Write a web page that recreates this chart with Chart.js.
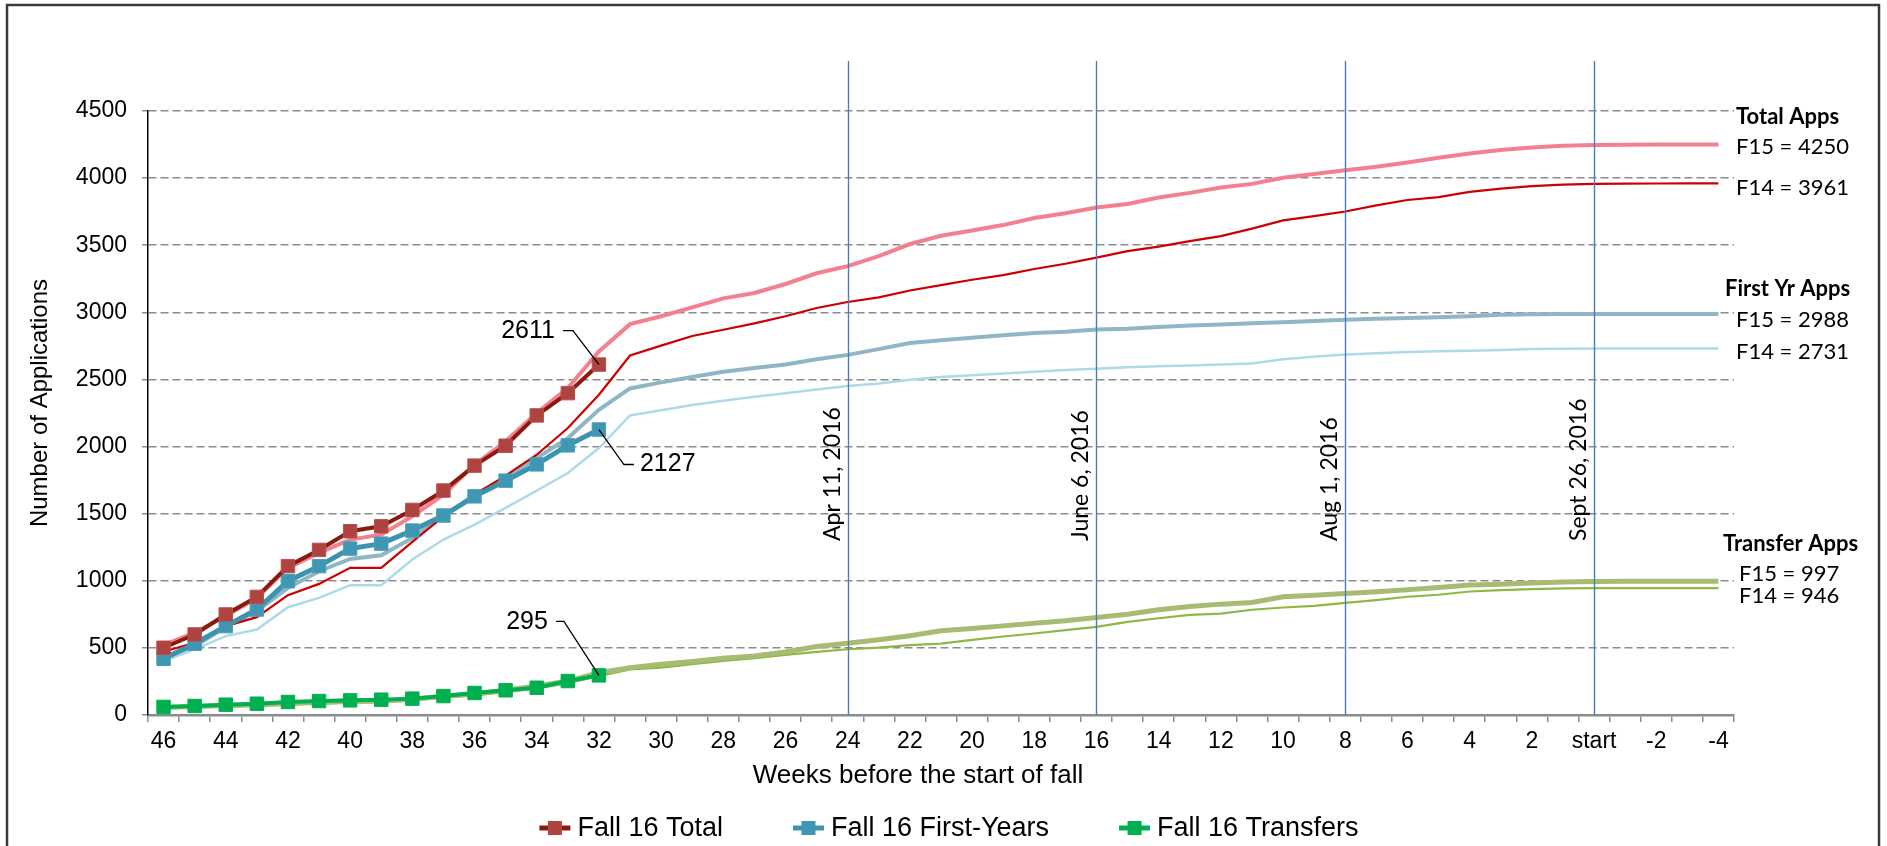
<!DOCTYPE html>
<html><head><meta charset="utf-8">
<script src="https://cdn.jsdelivr.net/npm/chart.js@4/dist/chart.umd.min.js"></script>
<style>html,body{margin:0;padding:0;background:#fff;}canvas{display:block;}</style>
</head><body>
<canvas id="c" width="1887" height="846"></canvas>
<script>
const weekLabels = ['46','45','44','43','42','41','40','39','38','37','36','35','34','33','32','31','30','29','28','27','26','25','24','23','22','21','20','19','18','17','16','15','14','13','12','11','10','9','8','7','6','5','4','3','2','1','start','-1','-2','-3','-4'];

const fall16Total = [501,600,749,880,1109,1230,1369,1406,1528,1672,1858,2006,2232,2398,2611];
const fall16FirstYears = [419,531,662,786,997,1109,1240,1277,1374,1486,1629,1746,1867,2009,2127];
const fall16Transfers = [60,67,77,84,97,104,109,114,122,141,164,184,203,253,295];

const fall15Total = [520,613,737,873,1096,1208,1307,1344,1481,1642,1865,2039,2249,2435,2708,2912,2971,3037,3104,3144,3211,3291,3344,3418,3509,3570,3610,3650,3703,3738,3781,3807,3855,3890,3930,3957,4002,4031,4058,4084,4116,4151,4183,4210,4228,4242,4247,4249,4250,4250,4250];
const fall14Total = [471,538,662,729,893,977,1096,1096,1290,1480,1642,1783,1939,2138,2386,2678,2752,2824,2870,2918,2971,3032,3077,3112,3163,3203,3243,3277,3323,3362,3408,3456,3490,3530,3568,3624,3685,3717,3751,3797,3837,3858,3898,3922,3941,3951,3957,3959,3960,3961,3961];
const fall15FirstYears = [432,513,655,774,947,1071,1163,1190,1319,1480,1642,1766,1915,2063,2274,2433,2478,2518,2558,2585,2611,2651,2683,2726,2771,2792,2811,2830,2846,2856,2872,2878,2891,2902,2910,2918,2926,2936,2944,2952,2958,2963,2971,2982,2986,2987,2988,2988,2988,2988,2988];
const fall14FirstYears = [402,489,588,637,803,873,967,967,1158,1307,1419,1543,1672,1803,1989,2232,2270,2310,2342,2371,2398,2425,2451,2470,2497,2518,2531,2545,2558,2571,2579,2590,2598,2603,2611,2619,2651,2670,2686,2696,2704,2710,2714,2720,2726,2729,2731,2731,2731,2731,2731];
const fall15Transfers = [58,63,70,76,86,94,100,104,117,139,159,184,216,253,315,352,378,398,423,440,470,510,535,560,590,627,644,664,684,702,726,751,784,808,826,838,881,893,906,918,933,950,968,975,983,990,994,996,997,997,997];
const fall14Transfers = [50,55,62,68,78,86,92,96,109,129,146,171,198,238,290,340,353,378,403,423,448,470,490,502,520,532,560,585,607,632,657,694,721,746,756,784,801,813,836,856,881,896,920,930,938,943,946,946,946,946,946];

const markerWeeks = ['24','16','8','start'];
const markerTexts = ['Apr 11, 2016','June 6, 2016','Aug 1, 2016','Sept 26, 2016'];
const sideHeaders = ['Total Apps','First Yr Apps','Transfer Apps'];
const sideLines = [['F15 = 4250','F14 = 3961'],['F15 = 2988','F14 = 2731'],['F15 = 997','F14 = 946']];
const xTitle = 'Weeks before the start of fall';
const yTitle = 'Number of Applications';
const yMax = 4500, yStep = 500;

const FONT = "'Liberation Sans', Arial, sans-serif";
const CAL = "Lato, 'Open Sans', sans-serif";

// vertical date markers
const markerPlugin = {
  id: 'markers',
  afterDatasetsDraw(chart) {
    const {ctx} = chart, xs = chart.scales.x, ys = chart.scales.y;
    ctx.save();
    markerWeeks.forEach((w, i) => {
      const x = Math.round(xs.getPixelForValue(weekLabels.indexOf(w))) + 0.5;
      ctx.strokeStyle = '#4a7ebb';
      ctx.lineWidth = 1.4;
      ctx.beginPath();
      ctx.moveTo(x, ys.getPixelForValue(yMax) - 50);
      ctx.lineTo(x, ys.bottom);
      ctx.stroke();
      ctx.save();
      ctx.translate(x - 9, ys.bottom - 174);
      ctx.rotate(-Math.PI / 2);
      ctx.font = '23px ' + CAL;
      ctx.fillStyle = '#000';
      ctx.textAlign = 'left';
      ctx.textBaseline = 'alphabetic';
      ctx.fillText(markerTexts[i], 0, 0);
      ctx.restore();
    });
    ctx.restore();
  }
};

// callout labels for the last Fall 16 points
const calloutPlugin = {
  id: 'callouts',
  afterDatasetsDraw(chart) {
    const {ctx} = chart;
    const specs = [
      {ds: 0, elbow: [-26, -34], end: [-36, -34], text: [-44, -33], align: 'right'},
      {ds: 1, elbow: [25, 35], end: [35, 35], text: [41, 35], align: 'left'},
      {ds: 2, elbow: [-35, -54], end: [-43, -54], text: [-51, -53], align: 'right'}
    ];
    ctx.save();
    specs.forEach(s => {
      const meta = chart.getDatasetMeta(s.ds);
      const pt = meta.data[meta.data.length - 1];
      const val = chart.data.datasets[s.ds].data[meta.data.length - 1];
      ctx.strokeStyle = '#000';
      ctx.lineWidth = 1.3;
      ctx.beginPath();
      ctx.moveTo(pt.x, pt.y);
      ctx.lineTo(pt.x + s.elbow[0], pt.y + s.elbow[1]);
      ctx.lineTo(pt.x + s.end[0], pt.y + s.end[1]);
      ctx.stroke();
      ctx.font = '25px ' + FONT;
      ctx.fillStyle = '#000';
      ctx.textAlign = s.align;
      ctx.textBaseline = 'middle';
      ctx.fillText(String(val), pt.x + s.text[0], pt.y + s.text[1]);
    });
    ctx.restore();
  }
};

// axis titles, right side notes, custom legend, frame
const decorPlugin = {
  id: 'decor',
  afterDraw(chart) {
    const {ctx, chartArea} = chart;
    const r = chartArea.right;
    ctx.save();
    // axis titles
    ctx.fillStyle = '#000';
    ctx.textAlign = 'center';
    ctx.textBaseline = 'middle';
    ctx.font = '26px ' + FONT;
    ctx.fillText(xTitle, (chartArea.left + chartArea.right) / 2 - 23, 776);
    ctx.save();
    ctx.translate(40, (chartArea.top + chartArea.bottom) / 2 - 10);
    ctx.rotate(-Math.PI / 2);
    ctx.font = '24px ' + FONT;
    ctx.fillText(yTitle, 0, 0);
    ctx.restore();
    // side notes
    const headY = [117, 289, 544];
    const headX = [r + 2, r - 9, r - 11];
    const lineY = [[147, 188], [320, 352], [574, 596]];
    const lineX = [r + 2, r + 2, r + 5];
    ctx.textAlign = 'left';
    sideHeaders.forEach((h, i) => {
      ctx.font = 'bold 22px ' + CAL;
      ctx.fillText(h, headX[i], headY[i]);
      ctx.font = '22px ' + CAL;
      sideLines[i].forEach((t, j) => ctx.fillText(t, lineX[i], lineY[i][j]));
    });
    // legend for the three Fall 16 series
    const items = chart.data.datasets.slice(0, 3);
    ctx.font = '27px ' + FONT;
    const markW = 31, gapT = 7, gapItem = 70;
    const widths = items.map(d => markW + gapT + ctx.measureText(d.label).width);
    const total = widths.reduce((a, b) => a + b, 0) + gapItem * (items.length - 1);
    let x = 949 - total / 2;
    const ly = 828;
    items.forEach((d, i) => {
      ctx.strokeStyle = d.borderColor;
      ctx.lineWidth = 5;
      ctx.beginPath();
      ctx.moveTo(x, ly);
      ctx.lineTo(x + markW, ly);
      ctx.stroke();
      ctx.fillStyle = d.pointBackgroundColor;
      ctx.fillRect(x + markW / 2 - 7, ly - 7, 14, 14);
      ctx.fillStyle = '#000';
      ctx.textAlign = 'left';
      ctx.textBaseline = 'middle';
      ctx.fillText(d.label, x + markW + gapT, ly + 1);
      x += widths[i] + gapItem;
    });
    ctx.strokeStyle = '#3a3a3a';
    ctx.lineWidth = 2.5;
    ctx.strokeRect(7, 5, 1872, 870);
    ctx.restore();
  }
};

const thin = {pointRadius: 0, pointHoverRadius: 0, tension: 0, fill: false};

new Chart(document.getElementById('c'), {
  type: 'line',
  data: {
    labels: weekLabels,
    datasets: [
      {label: 'Fall 16 Total', data: fall16Total, borderColor: '#8B1A0E', borderWidth: 4, pointStyle: 'rect', pointRadius: 9.5, pointBackgroundColor: '#AE4340', pointBorderColor: '#B5504C', pointBorderWidth: 1, tension: 0},
      {label: 'Fall 16 First-Years', data: fall16FirstYears, borderColor: '#3B93AF', borderWidth: 5, pointStyle: 'rect', pointRadius: 9.5, pointBackgroundColor: '#3F97B3', pointBorderColor: '#4A9EB9', pointBorderWidth: 1, tension: 0},
      {label: 'Fall 16 Transfers', data: fall16Transfers, borderColor: '#00B050', borderWidth: 4, pointStyle: 'rect', pointRadius: 9.5, pointBackgroundColor: '#00B050', pointBorderColor: '#00B050', pointBorderWidth: 1, tension: 0},
      Object.assign({label: 'Fall 15 Total', data: fall15Total, borderColor: '#F4808F', borderWidth: 4}, thin),
      Object.assign({label: 'Fall 14 Total', data: fall14Total, borderColor: '#CC0000', borderWidth: 2.2}, thin),
      Object.assign({label: 'Fall 15 First-Years', data: fall15FirstYears, borderColor: '#8FB6C5', borderWidth: 4}, thin),
      Object.assign({label: 'Fall 14 First-Years', data: fall14FirstYears, borderColor: '#ADDAE7', borderWidth: 2.5}, thin),
      Object.assign({label: 'Fall 15 Transfers', data: fall15Transfers, borderColor: '#A8BB72', borderWidth: 5}, thin),
      Object.assign({label: 'Fall 14 Transfers', data: fall14Transfers, borderColor: '#8DB843', borderWidth: 2.2}, thin)
    ]
  },
  options: {
    responsive: false,
    animation: false,
    devicePixelRatio: 1,
    events: [],
    layout: {padding: {left: 0, right: 153, top: 111, bottom: 46}},
    plugins: {legend: {display: false}, tooltip: {enabled: false}},
    scales: {
      x: {
        type: 'category',
        offset: true,
        afterFit: s => { s.height = 85; },
        grid: {display: true, drawOnChartArea: false, drawTicks: true, tickLength: 7, offset: true, color: '#8c8c8c', lineWidth: 1.5},
        border: {display: true, color: '#8c8c8c', width: 2.5},
        ticks: {autoSkip: false, maxRotation: 0, minRotation: 0, padding: 6, color: '#000', font: {family: FONT, size: 23},
          callback: (v, i) => (i % 2 === 0 ? weekLabels[i] : '')},
        title: {display: false}
      },
      y: {
        min: 0, max: yMax,
        afterFit: s => { s.width = 148; },
        grid: {color: '#8c8c8c', lineWidth: 1.5, drawTicks: true, tickLength: 6, tickColor: '#8c8c8c', tickBorderDash: []},
        border: {display: true, color: '#000', width: 1.5, dash: [8, 4]},
        ticks: {stepSize: yStep, padding: 15, color: '#000', font: {family: FONT, size: 23}, callback: v => String(v)},
        title: {display: false}
      }
    }
  },
  plugins: [markerPlugin, calloutPlugin, decorPlugin]
});
</script>
</body></html>
